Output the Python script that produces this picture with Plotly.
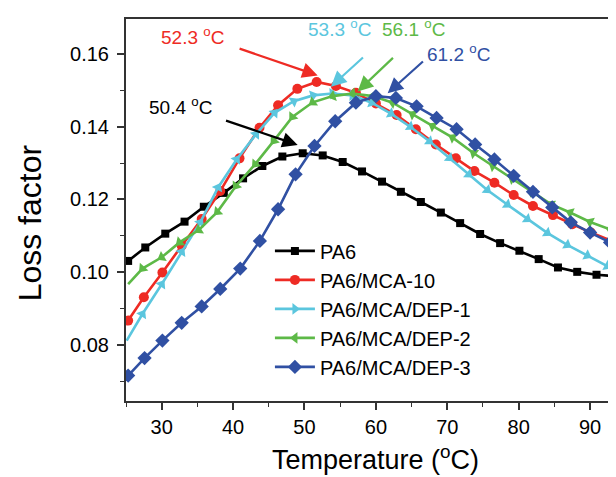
import plotly.graph_objects as go

# ---- data ----
pa6_x = [25.3, 27.7, 30.5, 33.2, 35.9, 38.7, 41.4, 44.1, 46.9, 49.75, 52.55, 55.35, 58.06, 60.86, 63.5, 66.3,
         69.1, 71.8, 74.6, 77.4, 80.1, 82.8, 85.5, 88.2, 90.9, 93.6, 96.3]
pa6_y = [0.1031, 0.1068, 0.1106, 0.1139, 0.1180, 0.1218, 0.1258, 0.1292, 0.1318, 0.1327, 0.1321, 0.1303, 0.1277,
         0.1249, 0.1221, 0.1193, 0.1164, 0.1135, 0.1105, 0.1080, 0.1059, 0.1036, 0.1013, 0.1001, 0.0993, 0.0988, 0.0985]

mca10_x = [25.3, 27.5, 30.1, 32.8, 35.6, 38.2, 40.9, 43.7, 46.3, 49.0, 51.7, 54.4, 57.2, 60.0, 62.9, 65.6,
           68.4, 71.2, 73.8, 76.6, 79.3, 82.0, 84.8, 87.5, 90.1, 93.1, 95.8]
mca10_y = [0.0867, 0.0931, 0.0999, 0.1073, 0.1146, 0.1223, 0.1313, 0.1397, 0.1459, 0.1504, 0.1523, 0.1512, 0.1493,
           0.1464, 0.1432, 0.1393, 0.1351, 0.1313, 0.1278, 0.1246, 0.1212, 0.1182, 0.1157, 0.1132, 0.1109, 0.1086, 0.1065]

dep1_x = [25.1, 27.3, 30.0, 32.8, 35.4, 37.9, 40.5, 43.2, 45.8, 48.5, 51.2, 53.9, 56.7, 59.4, 62.1, 64.8,
          67.5, 70.3, 73.0, 75.6, 78.4, 81.2, 84.0, 86.8, 89.6, 92.4, 95.1]
dep1_y = [0.0812, 0.0885, 0.0967, 0.1056, 0.1137, 0.1233, 0.1310, 0.1379, 0.1438, 0.1470, 0.1486, 0.1491, 0.1486,
          0.1466, 0.1436, 0.1400, 0.1360, 0.1314, 0.1269, 0.1226, 0.1186, 0.1146, 0.1108, 0.1075, 0.1046, 0.1017, 0.0992]

dep2_x = [25.3, 27.3, 30.0, 32.5, 35.2, 37.8, 40.4, 43.1, 45.7, 48.3, 51.15, 53.95, 56.75, 59.55, 62.35, 65.15,
          67.95, 70.75, 73.7, 76.4, 79.1, 81.8, 84.5, 87.2, 90.0, 92.8, 95.5]
dep2_y = [0.0967, 0.1010, 0.1041, 0.1082, 0.1116, 0.1166, 0.1237, 0.1297, 0.1361, 0.1427, 0.1467, 0.1484, 0.1491,
          0.1484, 0.1466, 0.1434, 0.1402, 0.1370, 0.1327, 0.1292, 0.1257, 0.1222, 0.1187, 0.1164, 0.1138, 0.1118, 0.1098]

dep3_x = [25.3, 27.6, 30.1, 32.8, 35.6, 38.2, 41.0, 43.75, 46.3, 48.75, 51.4, 54.3, 57.2, 60.0, 62.8, 65.7,
          68.5, 71.3, 73.9, 76.6, 79.3, 82.0, 84.7, 87.3, 90.0, 92.8, 95.5]
dep3_y = [0.0716, 0.0764, 0.0812, 0.0861, 0.0906, 0.0954, 0.1010, 0.1086, 0.1173, 0.1269, 0.1347, 0.1415, 0.1466,
          0.1484, 0.1479, 0.1456, 0.1424, 0.1393, 0.1351, 0.1310, 0.1265, 0.1221, 0.1178, 0.1137, 0.1109, 0.1082, 0.1060]

series_names = ["PA6", "PA6/MCA-10", "PA6/MCA/DEP-1", "PA6/MCA/DEP-2", "PA6/MCA/DEP-3"]

peak_labels = ["50.4 <sup>o</sup>C", "52.3 <sup>o</sup>C", "53.3 <sup>o</sup>C", "56.1 <sup>o</sup>C", "61.2 <sup>o</sup>C"]
# arrow tips / tails and label anchor positions (data units)
arrow_tip_x = [49.05, 51.85, 53.7, 57.45, 61.65]
arrow_tip_y = [0.1350, 0.1541, 0.1510, 0.1497, 0.1492]
arrow_tail_x = [38.8, 40.7, 58.4, 62.6, 66.8]
arrow_tail_y = [0.1418, 0.1616, 0.1594, 0.1593, 0.1583]
label_x = [32.6, 34.3, 54.9, 65.2, 71.5]
label_y = [0.1456, 0.1648, 0.1670, 0.1670, 0.1602]

x_tick_vals = [30, 40, 50, 60, 70, 80, 90]
y_tick_vals = [0.08, 0.10, 0.12, 0.14, 0.16]

colors = ["#000000", "#EE2B24", "#5BC6DE", "#5DB947", "#3050A3"]
symbols = ["square", "circle", "triangle-up", "triangle-down", "diamond"]
sizes = [8, 10, 10, 10, 11]
anglerefs = ["up", "up", "previous", "previous", "up"]

xs = [pa6_x, mca10_x, dep1_x, dep2_x, dep3_x]
ys = [pa6_y, mca10_y, dep1_y, dep2_y, dep3_y]

FONT = "Liberation Sans, Arial, sans-serif"

fig = go.Figure()
for name, x, y, c, s, sz, ar in zip(series_names, xs, ys, colors, symbols, sizes, anglerefs):
    fig.add_trace(go.Scatter(
        x=x, y=y, name=name, mode="lines+markers",
        line=dict(color=c, width=2.6),
        marker=dict(symbol=s, size=sz, color=c, angleref=ar, line=dict(width=0)),
        cliponaxis=True,
    ))

for t, c, tx, ty, ax, ay, lx, ly in zip(peak_labels, colors, arrow_tip_x, arrow_tip_y,
                                        arrow_tail_x, arrow_tail_y, label_x, label_y):
    fig.add_annotation(x=tx, y=ty, ax=ax, ay=ay, xref="x", yref="y", axref="x", ayref="y",
                       text="", showarrow=True, arrowhead=2, arrowsize=1.4, arrowwidth=2.2,
                       arrowcolor=c)
    fig.add_annotation(x=lx, y=ly, xref="x", yref="y", text=t, showarrow=False,
                       font=dict(family=FONT, size=19, color=c))

fig.add_annotation(x=0.5, y=-0.15, xref="paper", yref="paper", yanchor="middle",
                   text="Temperature (<sup>o</sup>C)", showarrow=False,
                   font=dict(family=FONT, size=27, color="#000000"))
fig.add_annotation(x=-0.192, y=0.466, xref="paper", yref="paper", xanchor="center", yanchor="middle",
                   textangle=-90, text="Loss factor", showarrow=False,
                   font=dict(family=FONT, size=32, color="#000000"))

fig.update_layout(
    width=616, height=477,
    margin=dict(l=118, r=0, t=11, b=84, pad=0),
    paper_bgcolor="white", plot_bgcolor="white",
    font=dict(family=FONT, color="#000000"),
    showlegend=True,
    legend=dict(x=0.289, y=0.444, xanchor="left", yanchor="top",
                font=dict(family=FONT, size=20, color="#000000"),
                bgcolor="rgba(0,0,0,0)", tracegroupgap=0, itemwidth=40),
)
fig.update_xaxes(range=[25, 94.75], tickvals=x_tick_vals, ticks="outside", ticklen=7, tickwidth=1.5,
                 tickcolor="#333333", showline=True, linecolor="#333333", linewidth=2, mirror=True,
                 showgrid=False, zeroline=False, tickfont=dict(family=FONT, size=20),
                 minor=dict(ticks="outside", ticklen=4, tickwidth=1.2, dtick=5, tick0=25, tickcolor="#333333"))
fig.update_yaxes(range=[0.0646, 0.1696], tickvals=y_tick_vals, tickformat=".2f", ticks="outside", ticklen=7,
                 tickwidth=1.5, tickcolor="#333333", showline=True, linecolor="#333333", linewidth=2,
                 mirror=False, showgrid=False, zeroline=False, tickfont=dict(family=FONT, size=20),
                 ticklabelstandoff=4,
                 minor=dict(ticks="outside", ticklen=4, tickwidth=1.2, dtick=0.01, tick0=0.06, tickcolor="#333333"))

fig.write_html("out.html")
